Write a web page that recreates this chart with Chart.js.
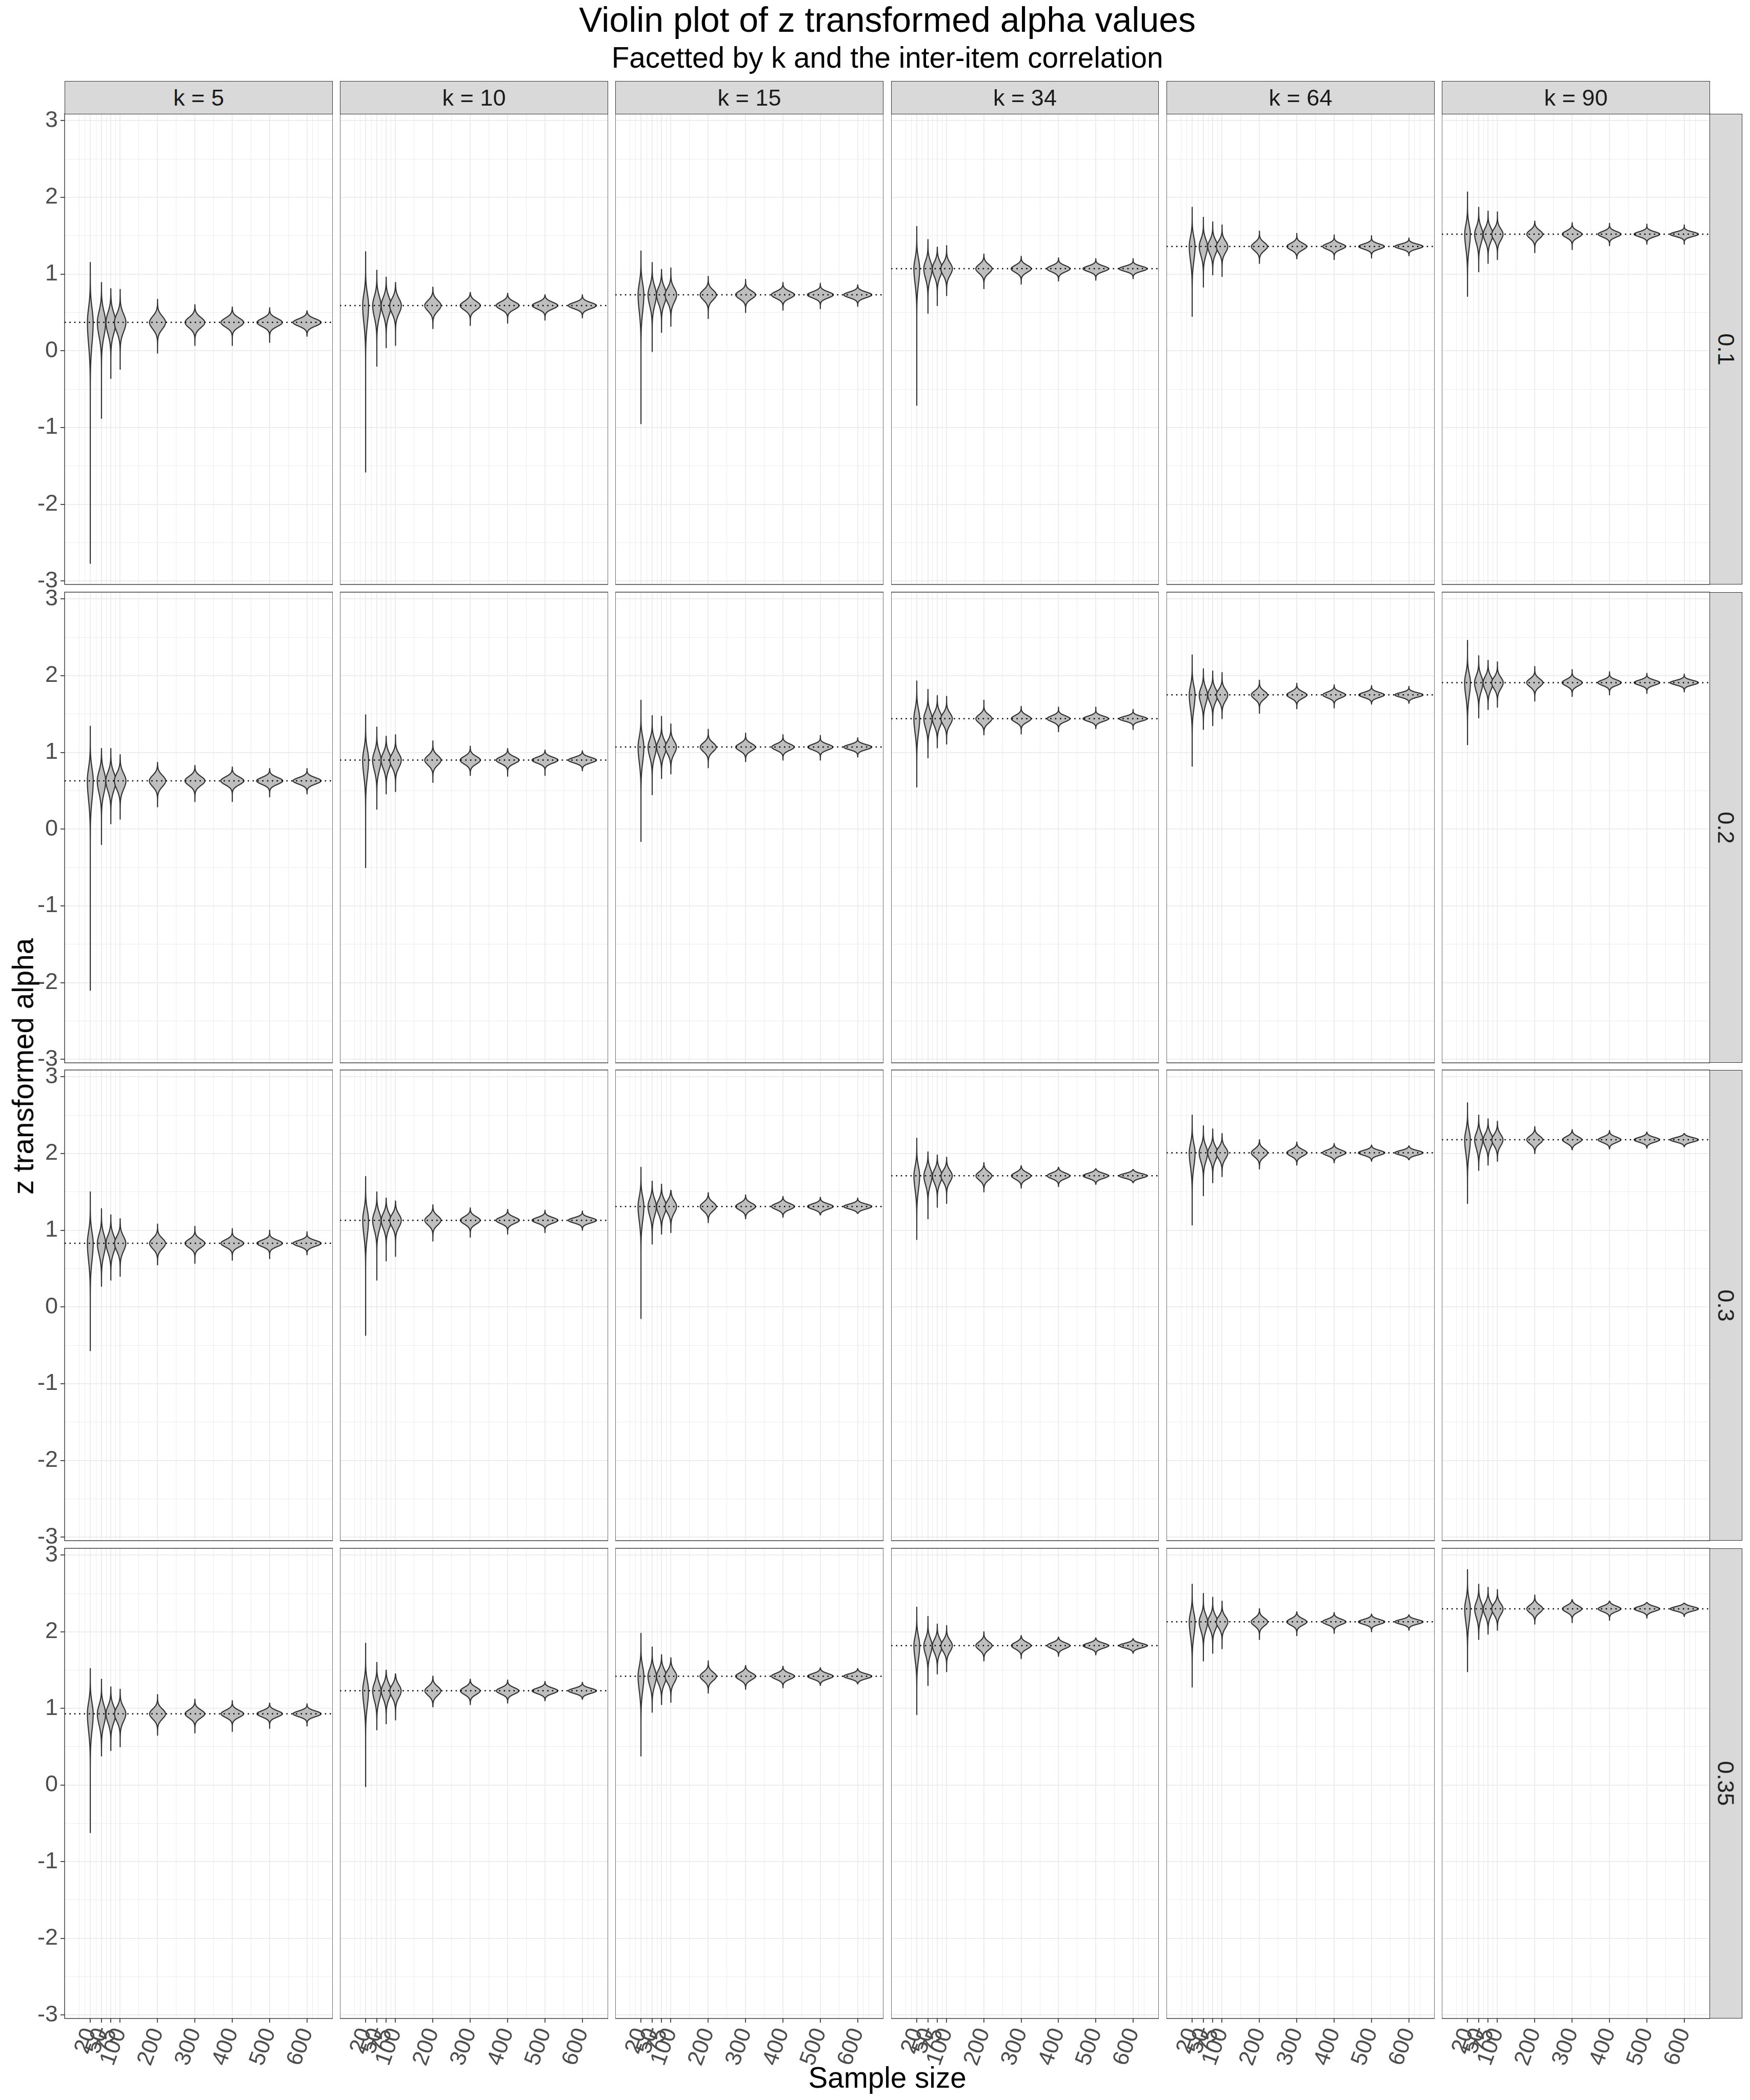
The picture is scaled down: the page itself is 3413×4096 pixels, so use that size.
<!DOCTYPE html>
<html><head><meta charset="utf-8">
<script src="https://cdn.jsdelivr.net/npm/chart.js@4.4.1/dist/chart.umd.min.js"></script>
<style>
html,body{margin:0;padding:0;background:#fff;}
#root{position:relative;width:3413px;height:4096px;overflow:hidden;font-family:"Liberation Sans",Arial,Helvetica,sans-serif;background:#fff;}
.txt{position:absolute;white-space:nowrap;line-height:1;}
.strip{position:absolute;background:#D9D9D9;border:1.4px solid #333333;box-sizing:border-box;color:#1A1A1A;display:flex;align-items:center;justify-content:center;font-size:45px;line-height:1;}
canvas{position:absolute;}
</style></head><body><div id="root"></div><script>
// ---------------- data ----------------
const sampleSizes = [20, 50, 75, 100, 200, 300, 400, 500, 600];
const xTickLabels = ['20', '50', '75', '100', '200', '300', '400', '500', '600'];
const xMinorBreaks = [-10, 5, 35, 62.5, 87.5, 150, 250, 350, 450, 550, 615, 630];
const yTicks = [-3, -2, -1, 0, 1, 2, 3];
const yTickLabels = ['-3', '-2', '-1', '0', '1', '2', '3'];
const yMinorBreaks = [-2.5, -1.5, -0.5, 0.5, 1.5, 2.5];
const kValues = [5, 10, 15, 34, 64, 90];
const correlations = ['0.1', '0.2', '0.3', '0.35'];

// dotted reference line (z of population alpha), rows = correlation, cols = k
const trueZ = [
  [0.37, 0.59, 0.73, 1.07, 1.36, 1.52],
  [0.63, 0.90, 1.07, 1.44, 1.75, 1.91],
  [0.83, 1.13, 1.31, 1.71, 2.01, 2.18],
  [0.93, 1.23, 1.42, 1.82, 2.13, 2.30]
];

// upper end of each violin (per k, per sample size)
const maxR10 = [
  [1.15, 0.89, 0.81, 0.80, 0.67, 0.60, 0.57, 0.56, 0.52],
  [1.29, 1.05, 0.96, 0.89, 0.83, 0.76, 0.75, 0.73, 0.73],
  [1.30, 1.15, 1.06, 1.08, 0.97, 0.93, 0.89, 0.88, 0.86],
  [1.62, 1.45, 1.35, 1.37, 1.26, 1.23, 1.21, 1.20, 1.20],
  [1.87, 1.74, 1.68, 1.64, 1.56, 1.53, 1.51, 1.50, 1.47],
  [2.07, 1.87, 1.82, 1.81, 1.69, 1.67, 1.66, 1.65, 1.64]
];
const minR10 = [
  [-2.77, -0.88, -0.36, -0.24, -0.03, 0.07, 0.07, 0.11, 0.19],
  [-1.58, -0.20, 0.04, 0.07, 0.29, 0.33, 0.36, 0.40, 0.43],
  [-0.95, -0.01, 0.24, 0.32, 0.42, 0.50, 0.53, 0.55, 0.58],
  [-0.71, 0.49, 0.59, 0.72, 0.81, 0.87, 0.91, 0.92, 0.94],
  [0.45, 0.83, 0.99, 0.97, 1.14, 1.20, 1.19, 1.21, 1.24],
  [0.71, 1.03, 1.14, 1.19, 1.28, 1.32, 1.37, 1.39, 1.39]
];
const maxR20 = [
  [1.34, 1.05, 1.05, 0.97, 0.87, 0.83, 0.81, 0.79, 0.79],
  [1.49, 1.33, 1.21, 1.23, 1.15, 1.08, 1.05, 1.03, 1.02],
  [1.68, 1.48, 1.47, 1.37, 1.30, 1.25, 1.23, 1.22, 1.19],
  [1.93, 1.82, 1.74, 1.73, 1.68, 1.60, 1.59, 1.59, 1.56],
  [2.27, 2.09, 2.06, 2.04, 1.94, 1.90, 1.88, 1.87, 1.86],
  [2.46, 2.26, 2.20, 2.18, 2.12, 2.08, 2.05, 2.03, 2.02]
];
const minR20 = [
  [-2.10, -0.20, 0.07, 0.13, 0.29, 0.36, 0.36, 0.42, 0.46],
  [-0.50, 0.26, 0.46, 0.49, 0.61, 0.70, 0.69, 0.70, 0.76],
  [-0.16, 0.45, 0.66, 0.72, 0.80, 0.88, 0.90, 0.90, 0.94],
  [0.55, 0.93, 1.06, 1.11, 1.23, 1.24, 1.27, 1.31, 1.30],
  [0.82, 1.30, 1.35, 1.44, 1.51, 1.57, 1.58, 1.63, 1.64],
  [1.10, 1.45, 1.56, 1.59, 1.67, 1.73, 1.75, 1.77, 1.79]
];
const maxR30 = [
  [1.50, 1.28, 1.20, 1.15, 1.08, 1.05, 1.02, 1.00, 0.98],
  [1.70, 1.50, 1.42, 1.38, 1.33, 1.29, 1.27, 1.26, 1.25],
  [1.82, 1.64, 1.60, 1.52, 1.49, 1.46, 1.44, 1.43, 1.42],
  [2.20, 2.02, 1.98, 1.95, 1.88, 1.84, 1.82, 1.80, 1.79],
  [2.50, 2.36, 2.32, 2.26, 2.18, 2.15, 2.13, 2.11, 2.10],
  [2.66, 2.50, 2.45, 2.42, 2.35, 2.31, 2.30, 2.28, 2.26]
];
const minR30 = [
  [-0.57, 0.27, 0.35, 0.40, 0.55, 0.57, 0.61, 0.63, 0.68],
  [-0.37, 0.35, 0.60, 0.66, 0.86, 0.91, 0.95, 0.97, 1.00],
  [-0.15, 0.82, 0.95, 0.97, 1.10, 1.15, 1.17, 1.20, 1.22],
  [0.88, 1.15, 1.30, 1.35, 1.50, 1.55, 1.57, 1.60, 1.62],
  [1.07, 1.45, 1.62, 1.70, 1.80, 1.85, 1.88, 1.90, 1.92],
  [1.35, 1.78, 1.85, 1.90, 2.00, 2.05, 2.06, 2.07, 2.09]
];
const maxR35 = [
  [1.52, 1.38, 1.28, 1.25, 1.18, 1.12, 1.10, 1.07, 1.06],
  [1.85, 1.60, 1.50, 1.45, 1.42, 1.38, 1.37, 1.35, 1.34],
  [1.98, 1.80, 1.70, 1.66, 1.62, 1.56, 1.55, 1.53, 1.52],
  [2.32, 2.20, 2.10, 2.08, 2.00, 1.95, 1.93, 1.92, 1.91],
  [2.62, 2.50, 2.45, 2.40, 2.30, 2.26, 2.25, 2.23, 2.22],
  [2.81, 2.62, 2.58, 2.55, 2.48, 2.42, 2.40, 2.38, 2.37]
];
const minR35 = [
  [-0.62, 0.38, 0.45, 0.50, 0.65, 0.68, 0.70, 0.74, 0.77],
  [-0.02, 0.72, 0.80, 0.85, 1.02, 1.05, 1.07, 1.10, 1.12],
  [0.38, 0.95, 1.05, 1.08, 1.20, 1.25, 1.27, 1.30, 1.32],
  [0.92, 1.30, 1.45, 1.48, 1.62, 1.65, 1.68, 1.70, 1.72],
  [1.28, 1.62, 1.72, 1.78, 1.90, 1.95, 1.98, 2.00, 2.02],
  [1.48, 1.90, 1.97, 2.02, 2.10, 2.12, 2.15, 2.18, 2.20]
];

// spread of the violin body (per k, per sample size)
const sdR10 = [
  [0.23, 0.16, 0.135, 0.115, 0.082, 0.067, 0.058, 0.052, 0.047],
  [0.19, 0.135, 0.113, 0.097, 0.069, 0.056, 0.049, 0.044, 0.040],
  [0.18, 0.125, 0.105, 0.090, 0.064, 0.052, 0.045, 0.040, 0.037],
  [0.16, 0.110, 0.093, 0.080, 0.057, 0.046, 0.040, 0.036, 0.033],
  [0.15, 0.105, 0.088, 0.076, 0.054, 0.044, 0.038, 0.034, 0.031],
  [0.15, 0.103, 0.087, 0.075, 0.053, 0.043, 0.037, 0.033, 0.030]
];
const sdR20 = [
  [0.20, 0.140, 0.118, 0.102, 0.072, 0.059, 0.051, 0.045, 0.042],
  [0.17, 0.120, 0.100, 0.088, 0.062, 0.050, 0.044, 0.039, 0.036],
  [0.16, 0.113, 0.095, 0.083, 0.058, 0.047, 0.041, 0.037, 0.033],
  [0.15, 0.105, 0.088, 0.076, 0.054, 0.044, 0.038, 0.034, 0.031],
  [0.145, 0.102, 0.086, 0.074, 0.052, 0.042, 0.037, 0.033, 0.030],
  [0.145, 0.101, 0.085, 0.073, 0.052, 0.042, 0.036, 0.033, 0.030]
];
const sdR30 = [
  [0.185, 0.130, 0.110, 0.095, 0.067, 0.054, 0.047, 0.042, 0.038],
  [0.165, 0.114, 0.096, 0.083, 0.059, 0.048, 0.041, 0.037, 0.034],
  [0.155, 0.108, 0.092, 0.079, 0.056, 0.045, 0.039, 0.035, 0.032],
  [0.148, 0.103, 0.087, 0.075, 0.053, 0.043, 0.037, 0.033, 0.030],
  [0.145, 0.100, 0.085, 0.073, 0.052, 0.042, 0.036, 0.032, 0.030],
  [0.144, 0.100, 0.084, 0.073, 0.051, 0.042, 0.036, 0.032, 0.029]
];
const sdR35 = [
  [0.180, 0.126, 0.107, 0.092, 0.065, 0.053, 0.046, 0.041, 0.037],
  [0.160, 0.112, 0.095, 0.082, 0.058, 0.047, 0.041, 0.036, 0.033],
  [0.155, 0.107, 0.091, 0.078, 0.055, 0.045, 0.039, 0.035, 0.032],
  [0.147, 0.102, 0.086, 0.074, 0.052, 0.043, 0.037, 0.033, 0.030],
  [0.145, 0.100, 0.085, 0.073, 0.051, 0.042, 0.036, 0.032, 0.030],
  [0.144, 0.100, 0.084, 0.072, 0.051, 0.042, 0.036, 0.032, 0.029]
];
// lower tail is a bit heavier than the upper one (per sample size)
const lowerTailSkew = [0.2, 0.12, 0.08, 0.06, 0.04, 0.03, 0.02, 0.02, 0.02];

const maxRows = [maxR10, maxR20, maxR30, maxR35];
const minRows = [minR10, minR20, minR30, minR35];
const sdRows = [sdR10, sdR20, sdR30, sdR35];

// ---------------- layout / style ----------------
const S = 3413 / 3840;
const FONT = '"Liberation Sans", Arial, Helvetica, sans-serif';
const X_MIN = -48.7, X_MAX = 668.9;
const Y_MIN = -3.046, Y_MAX = 3.089;
const VIOLIN_HALF_WIDTH = 37.5; // in sample-size units
const PT = 30, AXIS_H = 125;
const colLeft = c => (141.8 + 604.4 * c) * S;
const rowTop = r => (250.3 + 1049 * r) * S;
const PANEL_W = 588.2 * S, PANEL_H = 1032.7 * S;
const root = document.getElementById('root');

const xAllBreaks = [...xMinorBreaks, ...sampleSizes].sort((a, b) => a - b);
const yAllBreaks = [...yMinorBreaks, ...yTicks].sort((a, b) => a - b);
const isMajorX = v => sampleSizes.includes(v);
const isMajorY = v => yTicks.includes(v);

const violinPlugin = {
  id: 'violins',
  beforeDatasetsDraw(chart) {
    const o = chart.options.plugins.violins;
    const {ctx, chartArea: a} = chart;
    const xs = chart.scales.x, ys = chart.scales.y;
    const sds = sdRows[o.r][o.c], mins = minRows[o.r][o.c], maxs = maxRows[o.r][o.c];
    const m = trueZ[o.r][o.c];
    const sdRef = Math.min(...sds);
    ctx.save();
    ctx.beginPath();
    ctx.rect(a.left, a.top, a.right - a.left, a.bottom - a.top);
    ctx.clip();
    sampleSizes.forEach((n, i) => {
      const sd = sds[i], sk = lowerTailSkew[i];
      const sU = sd * (1 - sk), sD = sd * (1 + sk);
      const peak = VIOLIN_HALF_WIDTH * sdRef / sd;
      const steps = 300;
      const prof = [];
      for (let s = 0; s <= steps; s++) {
        const v = mins[i] + (maxs[i] - mins[i]) * s / steps;
        const sg = v >= m ? sU : sD;
        prof.push([v, peak * Math.exp(-0.5 * Math.pow((v - m) / sg, 2))]);
      }
      ctx.beginPath();
      prof.forEach(([v, hw], j) => {
        const px = xs.getPixelForValue(n + hw), py = ys.getPixelForValue(v);
        if (j) ctx.lineTo(px, py); else ctx.moveTo(px, py);
      });
      for (let j = prof.length - 1; j >= 0; j--) {
        const [v, hw] = prof[j];
        ctx.lineTo(xs.getPixelForValue(n - hw), ys.getPixelForValue(v));
      }
      ctx.closePath();
      ctx.fillStyle = '#BEBEBE';
      ctx.fill();
      ctx.lineWidth = 2.2;
      ctx.lineJoin = 'round';
      ctx.strokeStyle = '#333333';
      ctx.stroke();
    });
    ctx.restore();
  }
};
const borderPlugin = {
  id: 'panelBorder',
  afterDraw(chart) {
    const {ctx, chartArea: a} = chart;
    ctx.save();
    ctx.strokeStyle = '#333333';
    ctx.lineWidth = 1.4;
    ctx.strokeRect(a.left, a.top, a.right - a.left, a.bottom - a.top);
    ctx.restore();
  }
};

function zeroPad(s) { s.paddingLeft = 0; s.paddingRight = 0; s.paddingTop = 0; s.paddingBottom = 0; }

for (let r = 0; r < 4; r++) {
  for (let c = 0; c < 6; c++) {
    const x0 = Math.round(colLeft(c)), x1 = Math.round(colLeft(c) + PANEL_W);
    const y0 = Math.round(rowTop(r)), y1 = Math.round(rowTop(r) + PANEL_H);
    const isLeft = c === 0, isBottom = r === 3;
    const cl = isLeft ? 0 : x0;
    const ct = y0 - PT;
    const cw = x1 - cl;
    const ch = (isBottom ? y1 + AXIS_H : y1 + PT) - ct;
    const cv = document.createElement('canvas');
    cv.width = cw; cv.height = ch;
    cv.style.left = cl + 'px'; cv.style.top = ct + 'px';
    cv.style.width = cw + 'px'; cv.style.height = ch + 'px';
    root.appendChild(cv);
    const yAxisW = isLeft ? x0 : 0;
    new Chart(cv, {
      type: 'line',
      data: {
        datasets: [{
          data: [{x: X_MIN, y: trueZ[r][c]}, {x: X_MAX, y: trueZ[r][c]}],
          borderColor: '#000000', borderWidth: 2.5, borderDash: [2.5, 6.9],
          borderCapStyle: 'butt', pointRadius: 0, fill: false, tension: 0
        }]
      },
      options: {
        responsive: false, animation: false, devicePixelRatio: 1, events: [],
        layout: {padding: {top: PT, bottom: isBottom ? 0 : PT, left: 0, right: 0}},
        plugins: {legend: {display: false}, tooltip: {enabled: false}, violins: {r, c}},
        scales: {
          x: {
            type: 'linear', min: X_MIN, max: X_MAX, bounds: 'data',
            border: {display: false},
            afterBuildTicks: s => { s.ticks = xAllBreaks.map(v => ({value: v})); },
            afterFit: s => { s.height = isBottom ? AXIS_H : 0; zeroPad(s); },
            grid: {
              color: '#EBEBEB',
              lineWidth: ctx => (ctx.tick && isMajorX(ctx.tick.value)) ? 1.8 : 0.9,
              drawTicks: isBottom, tickLength: 8, tickWidth: 1.7,
              tickColor: ctx => (ctx.tick && isMajorX(ctx.tick.value)) ? '#333333' : 'rgba(0,0,0,0)'
            },
            ticks: {
              display: isBottom, autoSkip: false, minRotation: 70, maxRotation: 70, padding: 4,
              color: '#4D4D4D', font: {family: FONT, size: 44},
              callback: v => { const i = sampleSizes.indexOf(v); return i >= 0 ? xTickLabels[i] : ''; }
            }
          },
          y: {
            type: 'linear', min: Y_MIN, max: Y_MAX, bounds: 'data',
            border: {display: false},
            afterBuildTicks: s => { s.ticks = yAllBreaks.map(v => ({value: v})); },
            afterFit: s => { s.width = yAxisW; zeroPad(s); },
            grid: {
              color: '#EBEBEB',
              lineWidth: ctx => (ctx.tick && isMajorY(ctx.tick.value)) ? 1.8 : 0.9,
              drawTicks: isLeft, tickLength: 8, tickWidth: 1.7,
              tickColor: ctx => (ctx.tick && isMajorY(ctx.tick.value)) ? '#333333' : 'rgba(0,0,0,0)'
            },
            ticks: {
              display: isLeft, autoSkip: false, padding: 5,
              color: '#4D4D4D', font: {family: FONT, size: 45},
              callback: v => { const i = yTicks.indexOf(v); return i >= 0 ? yTickLabels[i] : ''; }
            }
          }
        }
      },
      plugins: [violinPlugin, borderPlugin]
    });
  }
}

// strips
const stripTop = Math.round(178.3 * S);
for (let c = 0; c < 6; c++) {
  const x0 = Math.round(colLeft(c)), x1 = Math.round(colLeft(c) + PANEL_W);
  const d = document.createElement('div');
  d.className = 'strip';
  d.style.left = x0 + 'px'; d.style.top = stripTop + 'px';
  d.style.width = (x1 - x0) + 'px'; d.style.height = (Math.round(rowTop(0)) - stripTop + 1) + 'px';
  d.textContent = 'k = ' + kValues[c];
  root.appendChild(d);
}
const rsLeft = Math.round(colLeft(5) + PANEL_W) - 1;
for (let r = 0; r < 4; r++) {
  const y0 = Math.round(rowTop(r)), y1 = Math.round(rowTop(r) + PANEL_H);
  const d = document.createElement('div');
  d.className = 'strip';
  d.style.left = rsLeft + 'px'; d.style.top = y0 + 'px';
  d.style.width = Math.round(72 * S) + 'px'; d.style.height = (y1 - y0) + 'px';
  const sp = document.createElement('span');
  sp.style.display = 'inline-block'; sp.style.transform = 'rotate(90deg)';
  sp.textContent = correlations[r];
  d.appendChild(sp);
  root.appendChild(d);
}

// titles
function addText(txt, size, cx, baseline, color) {
  const d = document.createElement('div');
  d.className = 'txt';
  d.style.fontSize = size + 'px';
  d.style.color = color;
  d.style.top = (baseline - 0.8465 * size) + 'px';
  d.style.left = cx + 'px';
  d.style.transform = 'translateX(-50%)';
  d.textContent = txt;
  root.appendChild(d);
  return d;
}
const panelCenterX = (141.8 + 3752.4) / 2 * S;
addText('Violin plot of z transformed alpha values', 67.9, panelCenterX, 70 * S, '#000000');
addText('Facetted by k and the inter-item correlation', 56.6, panelCenterX, 149 * S, '#000000');
addText('Sample size', 56.6, panelCenterX, 4582 * S, '#000000');
const yt = document.createElement('div');
yt.className = 'txt';
yt.style.fontSize = '56.6px';
yt.style.color = '#000000';
yt.style.left = (74 * S - 0.8465 * 56.6 + 28.3) + 'px';
yt.style.top = ((250.3 + 4430) / 2 * S) + 'px';
yt.style.transform = 'translate(-50%,-50%) rotate(-90deg)';
yt.textContent = 'z transformed alpha';
root.appendChild(yt);
</script></body></html>
